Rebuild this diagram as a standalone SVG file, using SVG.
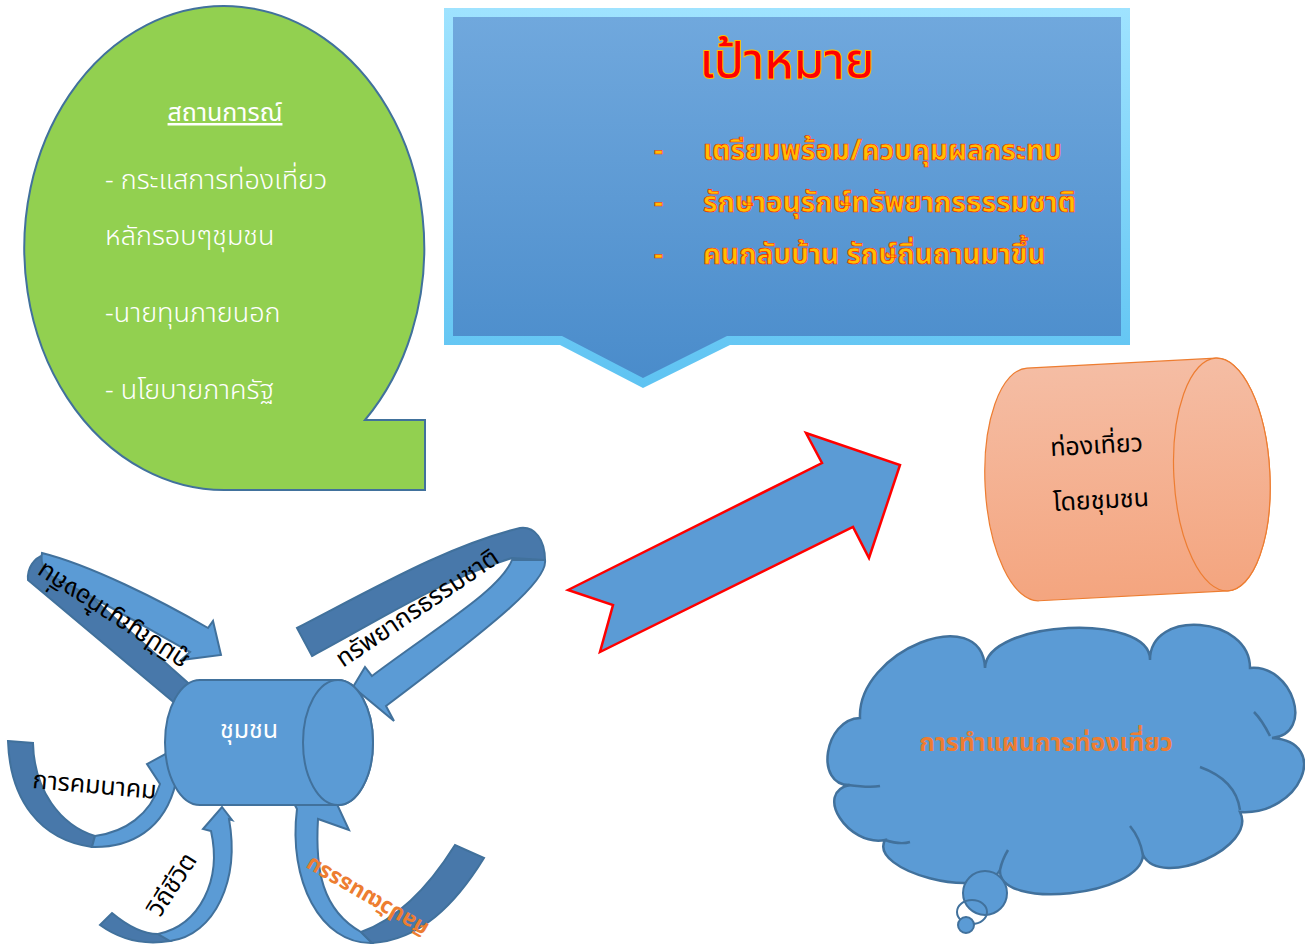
<svg xmlns="http://www.w3.org/2000/svg" width="1305" height="946" viewBox="0 0 1305 946">
<defs>
<linearGradient id="frameG" x1="0" y1="0" x2="0" y2="1">
<stop offset="0" stop-color="#9fe3ff"/><stop offset="1" stop-color="#5ec3f2"/>
</linearGradient>
<linearGradient id="innerG" x1="0" y1="0" x2="0" y2="1">
<stop offset="0" stop-color="#70a8dd"/><stop offset="1" stop-color="#4a8ccb"/>
</linearGradient>
<linearGradient id="cylG" x1="0" y1="0" x2="0" y2="1">
<stop offset="0" stop-color="#f5bda4"/><stop offset="1" stop-color="#f4a57f"/>
</linearGradient>
<style>
.th{font-family:"Noto Sans Thai","Noto Sans","DejaVu Sans",sans-serif}
.wt{fill:#ffffff;font-size:27px;font-weight:300}
.goal{fill:#FFC000;stroke:#FF2A00;stroke-width:0.7;font-size:28px;font-weight:bold}
.blk{fill:#000000;font-size:25px}
.lite{fill:#5B9BD5;stroke:#41719C;stroke-width:2}
.dark{fill:#4878AA;stroke:#41719C;stroke-width:2}
</style>
</defs>

<g id="situation">
<path d="M365,420 L425,420 L425,490 L228,490 A200 242 0 1 1 365,420 Z" fill="#92D050" stroke="#41719C" stroke-width="2"/>
<text class="th" x="225" y="121" text-anchor="middle" text-decoration="underline" font-size="25" fill="#ffffff">สถานการณ์</text>
<text class="th wt" x="105" y="189">- กระแสการท่องเที่ยว</text>
<text class="th wt" x="105" y="245">หลักรอบๆชุมชน</text>
<text class="th wt" x="105" y="322">-นายทุนภายนอก</text>
<text class="th wt" x="105" y="399">- นโยบายภาครัฐ</text>
</g>

<g id="goal">
<path d="M444,8 H1130 V345 H730 L643,388 L560,345 H444 Z" fill="url(#frameG)"/>
<path d="M453,17 H1121 V336 H727 L643,378 L562,336 H453 Z" fill="url(#innerG)"/>
<text class="th" x="787" y="78" text-anchor="middle" font-size="50" fill="#FF0000" stroke="#FFC000" stroke-width="2" paint-order="stroke">เป้าหมาย</text>
<text class="th goal" x="654" y="160">-</text>
<text class="th goal" x="703" y="160">เตรียมพร้อม/ควบคุมผลกระทบ</text>
<text class="th goal" x="654" y="212">-</text>
<text class="th goal" x="703" y="212">รักษาอนุรักษ์ทรัพยากรธรรมชาติ</text>
<text class="th goal" x="654" y="264">-</text>
<text class="th goal" x="703" y="264">คนกลับบ้าน รักษ์ถิ่นถานมาขึ้น</text>
</g>

<g id="bigArrow">
<path d="M568,590 L822,463 L806,433 L900,465 L869,558 L853,527 L600,652 L613,605 Z" fill="#5B9BD5" stroke="#FF0000" stroke-width="2.5" stroke-linejoin="miter"/>
</g>

<g id="tourismCylinder" transform="rotate(-3 1127 480)">
<path d="M1033,363 L1222,363 A48 116.5 0 0 1 1222,596 L1033,596 A48 116.5 0 0 1 1033,363 Z" fill="url(#cylG)" stroke="#ED7D31" stroke-width="1.2"/>
<ellipse cx="1222" cy="479.5" rx="48" ry="116.5" fill="url(#cylG)" stroke="#ED7D31" stroke-width="1.2"/>
<text class="th blk" x="1052" y="452" font-size="26">ท่องเที่ยว</text>
<text class="th blk" x="1052" y="507" font-size="26">โดยชุมชน</text>
</g>

<g id="planCloud">
<path d="M860,718 C857,651 982,601 985,668 C986,620 1151,612 1150,660 C1150,608 1250,616 1250,668 C1293,664 1315,734 1272,738 C1332,742 1300,816 1240,812 C1258,847 1161,890 1143,855 C1141,896 998,911 1000,870 C983,901 868,871 885,840 C848,847 813,792 850,785 C814,786 824,719 860,718 Z" fill="#5B9BD5" stroke="#41719C" stroke-width="2.5"/>
<path d="M1200,767 Q1236,780 1240,810 M1270,736 Q1262,720 1254,712 M848,785 Q870,788 880,786 M885,840 Q900,845 910,842 M1143,855 Q1140,838 1130,826 M1000,870 Q1002,860 1008,850" fill="none" stroke="#41719C" stroke-width="2.5"/>
<circle cx="985" cy="893" r="22" fill="#5B9BD5" stroke="#41719C" stroke-width="2"/>
<ellipse cx="972" cy="912" rx="15" ry="12" fill="none" stroke="#41719C" stroke-width="2"/>
<circle cx="966" cy="925" r="8" fill="#5B9BD5" stroke="#41719C" stroke-width="2"/>
<text class="th" x="1046" y="751" text-anchor="middle" font-size="25" font-weight="bold" fill="#ED7D31">การทำแผนการท่องเที่ยว</text>
</g>

<g id="connectors">
<path class="dark" d="M28,580 C27,568 34,558 44,555 L196,690 L183,710 Z"/>
<path class="lite" d="M42,553 C90,565 160,600 208,628 L213,621 L221,655 L181,660 L190,652 C150,630 100,600 55,578 C45,574 40,564 42,553 Z"/>
<path class="dark" d="M297,628 C380,585 450,545 520,528 C535,526 545,540 545,560 L512,558 C440,580 380,620 312,656 Z"/>
<path class="lite" d="M545,560 C548,580 500,620 386,706 L394,721 L353,687 L365,667 L372,676 C440,625 500,590 512,560 Z"/>
<path class="dark" d="M8,741 L33,743 C34,790 60,825 95,836 L92,847 C40,840 10,800 8,741 Z"/>
<path class="lite" d="M92,847 C130,848 165,830 176,782 L187,777 L169,752 L147,764 L160,784 C150,815 125,832 95,836 Z"/>
<path class="dark" d="M100,925 L112,913 C130,928 145,934 158,934 L170,941 C140,946 118,938 100,925 Z"/>
<path class="lite" d="M158,934 C200,925 222,880 211,831 L203,829 L222,807 L232,820 L229,819 C240,880 215,935 170,941 Z"/>
<path class="lite" d="M297,809 L292,800 L329,787 L349,830 L318,819 C315,870 322,910 361,932 L372,943 C320,944 288,880 297,809 Z"/>
<path class="dark" d="M361,932 C400,918 430,885 455,845 L484,858 C455,905 420,940 372,943 Z"/>
</g>

<g id="community">
<path d="M200,680 L338,680 A35 62.5 0 0 1 338,805 L200,805 A35 62.5 0 0 1 200,680 Z" fill="#5B9BD5" stroke="#41719C" stroke-width="2"/>
<ellipse cx="338" cy="742.5" rx="35" ry="62.5" fill="#5B9BD5" stroke="#41719C" stroke-width="2"/>
<text class="th" x="220" y="738" font-size="25" fill="#ffffff">ชุมชน</text>
</g>

<g id="labels">
<text class="th blk" transform="translate(190,657) rotate(213)" font-size="21">ภูมิปัญญาท้องถิ่น</text>
<text class="th blk" transform="translate(343,668) rotate(-34)">ทรัพยากรธรรมชาติ</text>
<text class="th blk" transform="translate(32,788) rotate(5)">การคมนาคม</text>
<text class="th blk" transform="translate(160,918) rotate(-57)">วิถีชีวิต</text>
<text class="th" transform="translate(430,925) rotate(210)" font-size="22" font-weight="bold" fill="#ED7D31">ศิลปวัฒนธรรม</text>
</g>
</svg>
